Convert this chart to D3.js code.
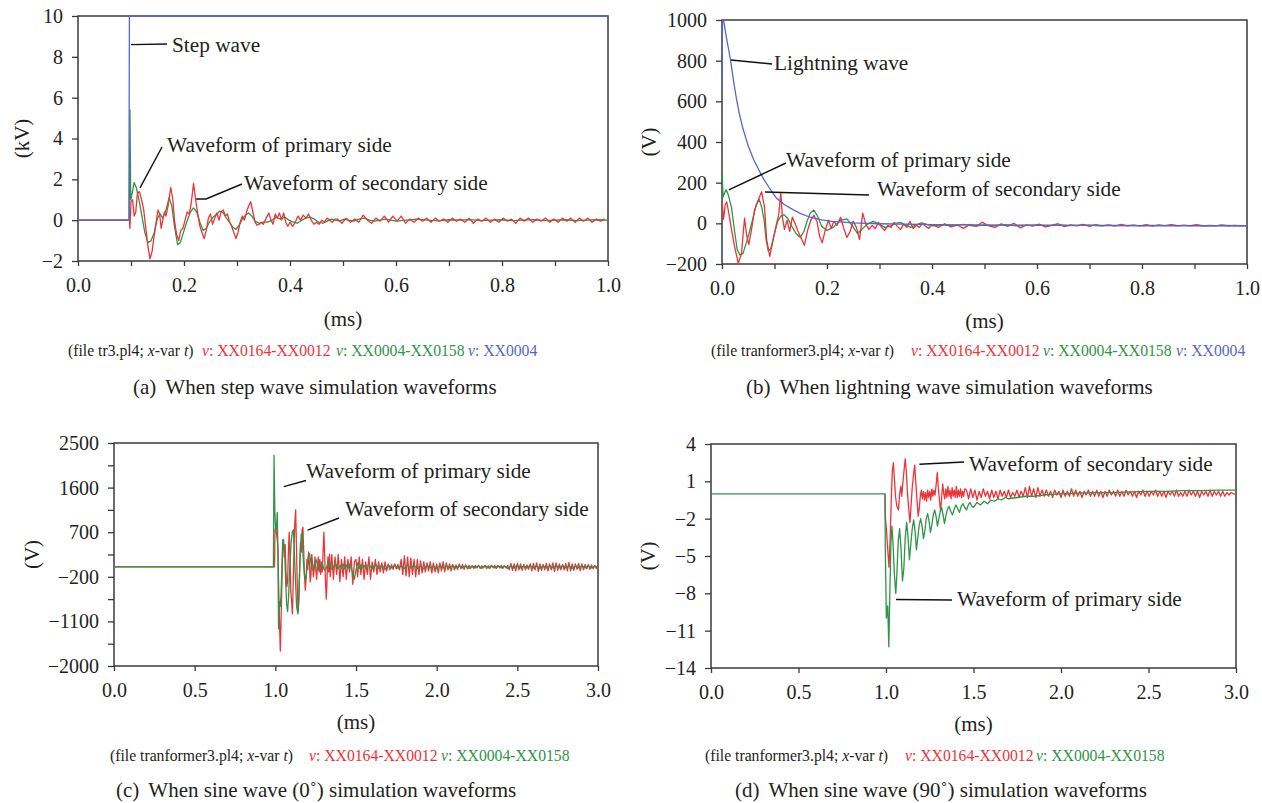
<!DOCTYPE html>
<html><head><meta charset="utf-8">
<script src="https://cdn.jsdelivr.net/npm/d3@7"></script>
<style>
body{margin:0;background:#fff;}
svg{display:block;}
svg text{font-family:"Liberation Serif","Times New Roman",serif;}
</style></head><body>
<svg id="chart" width="1262" height="803"></svg>
<script>
// ---------------- DATA ----------------
// Panel (a): step wave, time in ms, voltage in kV
const aXTicks = [0,0.1,0.2,0.3,0.4,0.5,0.6,0.7,0.8,0.9,1.0];
const aXLabels = ["0.0","","0.2","","0.4","","0.6","","0.8","","1.0"];
const aYTicks = [-2,0,2,4,6,8,10];
const aYLabels = ["\u22122","0","2","4","6","8","10"];
const aBlue = [[0,0],[0.096,0],[0.097,10],[1.0,10]];
const aGreen = [[0,0],[0.097,0],[0.098,5.4],[0.0995,1.0],[0.102,1.3],[0.106,1.85],[0.110,1.6],[0.115,1.0],[0.120,0.3],[0.126,-0.6],[0.132,-1.1],[0.138,-1.0],[0.144,-0.6],[0.150,0.1],[0.155,0.3],[0.160,0.1],[0.166,0.5],[0.172,1.1],[0.177,0.7],[0.182,-0.3],[0.188,-1.2],[0.193,-1.1],[0.199,-0.6],[0.205,-0.1],[0.212,0.4],[0.218,0.6],[0.224,0.4],[0.230,-0.1],[0.236,-0.5],[0.242,-0.4],[0.248,-0.1],[0.255,0.15],[0.262,0.3],[0.268,0.45],[0.274,0.35],[0.280,0.1],[0.286,-0.1],[0.292,-0.35],[0.298,-0.45],[0.304,-0.25],[0.310,0.05],[0.316,0.25],[0.322,0.35],[0.328,0.2],[0.334,-0.05],[0.342,-0.15],[0.350,-0.1],[0.358,-0.1],[0.366,0.0],[0.374,0.15],[0.382,0.05],[0.390,0.15],[0.398,0.0],[0.406,-0.1],[0.414,-0.15],[0.422,0.0],[0.430,0.1],[0.438,0.15],[0.446,0.05],[0.454,-0.1],[0.462,-0.15],[0.470,-0.05],[0.478,0.05],[0.486,0.0],[0.494,-0.05],[0.502,0.05],[0.51,0.0],[0.52,-0.05],[0.53,0.05],[0.54,0.1],[0.55,0.0],[0.56,-0.05],[0.57,0.0],[0.58,0.05],[0.59,0.0],[0.60,-0.05],[0.62,0.0],[0.64,0.05],[0.66,0.0],[0.68,-0.03],[0.70,0.02],[0.72,0.0],[0.74,0.03],[0.76,-0.02],[0.78,0.0],[0.80,0.02],[0.82,-0.02],[0.84,0.0],[0.86,0.03],[0.88,-0.02],[0.90,0.0],[0.92,0.02],[0.94,-0.02],[0.96,0.0],[0.98,0.02],[1.0,0.0]];
const aRedMain = [[0,0],[0.097,0],[0.098,-0.4],[0.100,0.9],[0.103,1.0],[0.106,0.2],[0.109,0.4],[0.112,1.3],[0.116,1.4],[0.120,1.0],[0.124,0.5],[0.128,-0.4],[0.132,-1.3],[0.136,-1.9],[0.140,-1.5],[0.144,-0.7],[0.148,0.0],[0.151,0.5],[0.154,0.3],[0.157,-0.4],[0.160,0.0],[0.163,0.4],[0.166,0.2],[0.170,0.7],[0.175,1.6],[0.179,1.0],[0.182,0.0],[0.186,-0.7],[0.190,-1.0],[0.194,-0.5],[0.198,-0.4],[0.202,0.0],[0.206,0.4],[0.210,0.3],[0.214,0.9],[0.218,1.8],[0.222,1.0],[0.226,0.3],[0.230,-0.3],[0.234,-0.6],[0.238,-0.9],[0.242,-0.5],[0.246,0.1],[0.250,0.3],[0.254,-0.2],[0.258,0.1],[0.262,0.35],[0.266,0.0],[0.270,0.4],[0.274,0.5],[0.278,0.2],[0.282,0.3],[0.286,-0.1],[0.290,-0.3],[0.294,-0.6],[0.298,-0.9],[0.302,-0.6],[0.306,-0.1],[0.310,0.2],[0.314,0.0],[0.318,0.4],[0.322,0.7],[0.326,0.9],[0.330,0.4],[0.334,-0.1],[0.338,-0.25],[0.342,-0.2],[0.346,-0.1],[0.350,-0.2],[0.355,0.1],[0.360,0.35],[0.364,0.0],[0.368,-0.2],[0.372,0.3],[0.376,0.1],[0.380,0.35],[0.384,0.0],[0.388,0.35],[0.392,-0.1],[0.396,-0.3],[0.400,-0.1],[0.405,-0.3],[0.410,-0.1],[0.415,0.2],[0.420,0.0],[0.425,0.25],[0.430,0.1],[0.435,0.3],[0.440,0.0],[0.445,-0.2],[0.450,-0.1],[0.455,-0.2],[0.460,0.0],[0.465,-0.1],[0.470,0.1],[0.475,0.0],[0.480,-0.1],[0.485,0.05]];
const aRedTailStart = 0.49, aRedTailStep = 0.008;
const aRedTail = [0.05,-0.15,0.1,-0.1,0.05,-0.1,0.25,0.0,-0.15,0.1,-0.05,0.2,-0.1,0.2,-0.05,0.2,-0.15,0.05,-0.1,0.1,-0.05,0.1,-0.1,0.1,-0.05,0.05,-0.1,0.1,-0.05,0.05,-0.1,0.1,-0.15,0.05,-0.05,0.1,-0.1,0.05,-0.1,0.1,-0.05,0.05,-0.15,0.1,-0.05,0.1,-0.1,0.05,-0.05,0.1,-0.1,0.05,-0.1,0.1,-0.05,0.1,-0.1,0.1,-0.05,0.1,-0.1,0.05,-0.05,0.05];

// Panel (b): lightning wave, V
const bXTicks = aXTicks;
const bXLabels = aXLabels;
const bYTicks = [-200,0,200,400,600,800,1000];
const bYLabels = ["\u2212200","0","200","400","600","800","1000"];
const bBlue = [[0,660],[0.001,1000],[0.003,1000],[0.008,920],[0.013,850],[0.017,790],[0.022,700],[0.027,620],[0.033,540],[0.040,465],[0.050,380],[0.060,315],[0.072,254],[0.080,215],[0.090,175],[0.104,123],[0.120,90],[0.136,66],[0.150,48],[0.168,30],[0.190,17],[0.210,10],[0.250,2],[0.300,-2],[0.400,-6],[0.600,-9],[0.800,-11],[1.000,-12]];
const bGreenMain = [[0,270],[0.002,130],[0.005,150],[0.008,165],[0.012,140],[0.018,80],[0.024,-40],[0.029,-130],[0.034,-155],[0.040,-148],[0.047,-90],[0.053,-35],[0.059,25],[0.065,90],[0.071,118],[0.076,75],[0.080,20],[0.084,-80],[0.088,-135],[0.093,-125],[0.099,-60],[0.106,10],[0.112,35],[0.118,42],[0.125,25],[0.133,-15],[0.141,-50],[0.149,-70],[0.156,-40],[0.162,10],[0.168,50],[0.175,65],[0.182,35],[0.190,-15],[0.200,-35],[0.212,-20],[0.225,15],[0.238,22],[0.249,-15],[0.258,-50],[0.266,-30],[0.276,-5],[0.288,10],[0.300,-5],[0.310,-20],[0.320,-15],[0.330,0],[0.340,5],[0.350,-10],[0.360,-20],[0.370,-8],[0.380,2],[0.390,-5],[0.400,-12]];
const bGreenTailStart = 0.42, bGreenTailStep = 0.02;
const bGreenTail = [-8,-12,-5,-14,-9,-11,-6,-12,-10,-9,-12,-8,-11,-10,-9,-12,-10,-11,-10,-12,-10,-11,-10,-11,-10,-12,-11,-10,-11,-11];
const bRedMain = [[0,110],[0.003,20],[0.006,90],[0.009,105],[0.013,50],[0.018,-30],[0.024,-115],[0.031,-197],[0.037,-150],[0.040,-60],[0.043,25],[0.047,-60],[0.051,-105],[0.056,-35],[0.062,65],[0.069,115],[0.0755,155],[0.081,80],[0.085,-80],[0.091,-162],[0.097,-85],[0.104,0],[0.108,40],[0.112,150],[0.115,30],[0.119,-30],[0.124,15],[0.129,-40],[0.134,30],[0.139,0],[0.145,-40],[0.152,-80],[0.157,-108],[0.163,-35],[0.169,15],[0.175,40],[0.181,8],[0.186,-65],[0.191,-95],[0.197,-30],[0.203,15],[0.208,-25],[0.213,10],[0.219,-10],[0.226,30],[0.232,-25],[0.238,-70],[0.244,-40],[0.250,10],[0.256,-20],[0.262,-80],[0.268,50],[0.274,-5],[0.280,-30],[0.286,-10],[0.292,-25],[0.298,5],[0.304,-20],[0.310,-35],[0.316,-10],[0.322,-20],[0.328,5],[0.334,-15],[0.340,-30],[0.346,-5],[0.352,-20],[0.358,10],[0.364,-25],[0.370,-10],[0.376,-20],[0.382,0],[0.388,-15],[0.394,-25]];
const bRedTailStart = 0.40, bRedTailStep = 0.012;
const bRedTail = [-5,-20,-2,-18,-8,-25,-5,-15,5,-12,-20,-3,-15,0,-22,-8,-14,-4,-18,-10,-2,-16,-8,-12,-5,-15,-6,-12,-8,-14,-5,-12,-9,-13,-6,-14,-8,-11,-7,-13,-9,-12,-7,-13,-10,-12,-8,-13,-10,-12,-11];

// Panel (c): sine wave 0 deg, V
const cXTicks = [0,0.5,1.0,1.5,2.0,2.5,3.0];
const cXLabels = ["0.0","0.5","1.0","1.5","2.0","2.5","3.0"];
const cYTicks = [-2000,-1550,-1100,-650,-200,250,700,1150,1600,2050,2500];
const cYLabels = ["\u22122000","","\u22121100","","\u2212200","","700","","1600","","2500"];
const cGreenMain = [[0,0],[0.988,0],[0.992,2250],[0.997,1100],[1.002,750],[1.007,800],[1.012,1100],[1.016,300],[1.020,-1250],[1.025,-700],[1.030,-800],[1.035,-600],[1.040,-100],[1.046,550],[1.052,450],[1.058,300],[1.064,-300],[1.070,-750],[1.076,-900],[1.082,-600],[1.090,0],[1.098,500],[1.105,700],[1.112,750],[1.118,300],[1.125,-300],[1.132,-800],[1.140,-950],[1.147,-400],[1.154,200],[1.160,650],[1.166,680],[1.172,200],[1.180,-150],[1.188,-270],[1.196,-50],[1.204,200],[1.212,270],[1.220,100],[1.228,-60],[1.236,-60],[1.244,80],[1.252,150],[1.260,60],[1.268,-50],[1.276,0],[1.284,100],[1.292,60],[1.300,-40],[1.310,-80],[1.320,20],[1.330,130],[1.340,40],[1.350,-50],[1.360,-10],[1.370,80],[1.380,20],[1.390,-40],[1.400,30],[1.410,-20],[1.420,60],[1.430,-40],[1.440,40],[1.450,-30],[1.460,50],[1.470,-20],[1.480,-120],[1.490,-250],[1.500,-60],[1.510,80],[1.520,-30],[1.530,40],[1.540,-20],[1.550,30],[1.560,-30],[1.570,20]];
const cGreenTailStart = 1.58, cGreenTailStep = 0.02;
const cGreenTail = [50,-40,60,-30,40,-50,30,-20,40,-30,20,-30,40,-20,30,-30,20,-40,30,-20,20,-30,30,-20,20,-20,30,-20,20,-20,30,-30,20,-20,20,-30,30,-20,20,-20,30,-20,20,-30,20,-20,30,-20,20,-20,30,-20,20,-30,20,-20,20,-20,30,-20,20,-20,20,-30,20,-20,20,-20,20,-20,10,0];
const cRedMain = [[0,0],[0.995,0],[0.998,750],[1.003,800],[1.008,650],[1.012,550],[1.016,400],[1.020,-300],[1.026,-1150],[1.031,-1700],[1.036,-1000],[1.041,-300],[1.046,450],[1.051,550],[1.056,200],[1.061,450],[1.066,-100],[1.071,-400],[1.076,-300],[1.081,300],[1.086,700],[1.091,200],[1.096,-500],[1.101,-700],[1.106,-950],[1.111,-300],[1.116,400],[1.121,900],[1.126,1150],[1.131,400],[1.136,-400],[1.141,-900],[1.146,-700],[1.151,0],[1.156,500],[1.161,300],[1.166,750],[1.171,800],[1.176,300],[1.181,-200],[1.186,-470],[1.191,-200],[1.196,150],[1.201,-50],[1.206,300],[1.211,100],[1.216,-300],[1.221,-150],[1.226,250],[1.231,50],[1.236,-200],[1.241,-50],[1.246,200],[1.251,-50],[1.256,-250],[1.261,0],[1.266,200],[1.271,-100],[1.276,150],[1.281,-150],[1.286,50],[1.291,-100],[1.296,300],[1.301,700],[1.306,200],[1.311,-300],[1.316,-650],[1.321,-200],[1.326,200],[1.331,-100],[1.336,250]];
const cRedTailStart = 1.34, cRedTailStep = 0.01;
const cRedTail = [-200,250,-250,200,-150,250,-300,150,-200,200,-250,150,-100,200,-350,100,
  150,-200,200,-150,150,-250,100,-150,200,-250,100,-100,150,-150,100,-100,80,-120,100,-80,
  60,-60,50,-50,60,-40,50,-60,
  150,-150,220,-180,200,-200,180,-150,150,-200,150,-150,120,-120,100,-100,80,
  -80,100,-120,80,-100,60,-120,80,-80,100,-100,80,-60,60,-80,50,-60,40,-50,60,-40,50,-50,40,-40,
  30,-30,20,-30,30,-20,30,-30,20,-20,30,-30,20,-30,30,-20,30,-30,20,-20,30,-30,20,-20,30,
  -60,70,-70,60,-80,70,-60,60,-70,50,-60,40,-50,60,-80,70,-60,80,-90,60,-70,50,-60,70,-80,60,-60,80,-90,80,-70,60,-60,50,-60,70,-80,90,-80,60,-70,60,-50,70,-80,60,-60,50,-40,50,-50,40,-40,30,-30,0];

// Panel (d): sine wave 90 deg, V
const dXTicks = cXTicks;
const dXLabels = cXLabels;
const dYTicks = [-14,-11,-8,-5,-2,1,4];
const dYLabels = ["\u221214","\u221211","\u22128","\u22125","\u22122","1","4"];
const dGreen = [[0,0],[0.994,0],[0.996,-4.5],[1.002,-10],[1.010,-9],[1.016,-12.3],[1.022,-8],[1.028,-4],[1.034,-2.6],[1.040,-4],[1.048,-6.5],[1.056,-8.0],[1.062,-6.5],[1.070,-3.8],[1.078,-2.8],[1.086,-4.5],[1.094,-7.0],[1.102,-6.0],[1.110,-3.5],[1.118,-2.3],[1.126,-3.5],[1.134,-5.3],[1.142,-4.0],[1.150,-2.8],[1.158,-2.1],[1.166,-3.0],[1.174,-4.5],[1.182,-3.5],[1.190,-2.5],[1.198,-2.0],[1.206,-2.6],[1.214,-3.6],[1.222,-3.0],[1.230,-2.0],[1.238,-1.6],[1.246,-2.2],[1.254,-3.1],[1.262,-2.5],[1.270,-1.7],[1.278,-1.3],[1.286,-1.8],[1.294,-2.6],[1.302,-2.0],[1.310,-1.4],[1.318,-1.1],[1.326,-1.7],[1.334,-2.4],[1.342,-1.8],[1.350,-1.3],[1.36,-1.0],[1.37,-1.4],[1.38,-1.7],[1.39,-1.2],[1.40,-0.9],[1.41,-1.2],[1.42,-1.5],[1.43,-1.0],[1.44,-0.8],[1.45,-1.1],[1.46,-1.3],[1.47,-0.9],[1.48,-0.7],[1.49,-1.0],[1.50,-1.1],[1.52,-0.7],[1.54,-0.9],[1.56,-0.6],[1.58,-0.8],[1.60,-0.5],[1.62,-0.6],[1.64,-0.4],[1.66,-0.5],[1.68,-0.3],[1.70,-0.4],[1.75,-0.3],[1.80,-0.2],[1.85,-0.2],[1.90,-0.1],[1.95,-0.05],[2.0,0.0],[2.1,0.05],[2.2,0.1],[2.3,0.1],[2.4,0.15],[2.5,0.2],[2.6,0.2],[2.7,0.25],[2.8,0.25],[2.9,0.3],[3.0,0.3]];
const dRedMain = [[0.994,0],[0.997,-2.0],[1.003,-3.0],[1.010,-4.5],[1.017,-5.9],[1.024,-3.5],[1.030,-0.5],[1.036,1.8],[1.042,2.5],[1.048,1.2],[1.055,-0.3],[1.062,-1.0],[1.071,-1.3],[1.078,0.0],[1.085,0.6],[1.090,-0.2],[1.097,1.0],[1.104,2.0],[1.110,2.8],[1.116,1.8],[1.123,0.0],[1.130,-1.2],[1.137,-2.3],[1.143,-1.0],[1.150,0.5],[1.157,1.5],[1.164,2.3],[1.170,1.0],[1.177,-0.5],[1.184,-1.8],[1.190,-1.2],[1.196,-0.2],[1.202,0.3],[1.208,-0.4],[1.214,0.2],[1.220,-0.5],[1.226,0.1],[1.232,-0.6],[1.238,0.3],[1.244,-0.3],[1.250,0.2],[1.256,-0.5],[1.262,0.4],[1.268,-0.2],[1.274,0.3],[1.280,-0.1],[1.287,0.8],[1.293,1.7],[1.299,0.5],[1.306,-0.6],[1.312,-1.4],[1.318,-0.3],[1.324,0.8],[1.330,0.0],[1.336,-0.4],[1.342,0.4],[1.348,-0.3],[1.354,0.6],[1.360,-0.2],[1.366,0.3],[1.372,-0.4],[1.378,0.5],[1.384,-0.2],[1.390,0.3],[1.396,-0.3],[1.402,0.6],[1.408,-0.3],[1.414,0.3],[1.420,-0.2],[1.426,0.4],[1.432,-0.3],[1.438,0.2],[1.444,-0.2],[1.450,0.4]];
const dRedTailStart = 1.46, dRedTailStep = 0.012;
const dRedTail = [0.3,-0.4,0.4,-0.3,0.3,-0.5,0.2,-0.3,0.4,-0.2,0.2,-0.4,
  0.3,-0.3,0.2,-0.4,0.3,-0.2,0.2,-0.3,0.3,-0.3,0.1,-0.2,0.3,-0.3,0.2,-0.2,0.5,-0.3,0.6,-0.2,0.4,-0.3,0.5,-0.2,0.3,
  -0.2,0.3,-0.2,0.2,-0.3,0.3,-0.1,0.2,-0.3,0.3,-0.2,0.2,-0.2,0.4,-0.2,0.3,-0.2,0.2,-0.3,0.2,-0.1,0.3,-0.2,0.2,-0.2,0.3,-0.2,0.2,-0.3,0.2,-0.2,0.3,-0.1,0.2,-0.2,0.3,-0.2,0.2,-0.2,0.3,-0.1,0.2,-0.2,0.2,-0.3,0.2,-0.1,0.3,-0.2,0.2,
  -0.2,0.2,-0.1,0.3,-0.2,0.2,-0.2,0.2,-0.3,0.2,-0.1,0.2,-0.2,0.3,-0.2,0.1,-0.2,0.2,-0.2,0.3,-0.1,0.2,-0.2,0.2,-0.3,0.2,-0.1,0.2,-0.2,0.3,-0.2,0.2,-0.1,0.2,-0.2,0.2,-0.2,0.1,-0.1,0.1,0.0,0.0];

// Texts
const seriesNames = ["XX0164-XX0012","XX0004-XX0158","XX0004"];
const captions = ["When step wave simulation waveforms","When lightning wave simulation waveforms","When sine wave (0\u02da) simulation waveforms","When sine wave (90\u02da) simulation waveforms"];
const noteTexts = ["Step wave","Lightning wave","Waveform of primary side","Waveform of secondary side"];

// ---------------- DRAW ----------------
const FONT = "'Liberation Serif', 'Times New Roman', serif";
const C = {red:"#ee3338", green:"#2e9546", blue:"#5766cd", ink:"#231f20", frame:"#3a3a3a"};
const withTail = (main, start, step, vals) => main.concat(vals.map((v,i)=>[start+i*step, v]));
const svg = d3.select("#chart");

const panels = [
 {tag:"(a)", xDomain:[0,1], yDomain:[-2,10], xRange:[78,608], yRange:[261,16],
  xTicks:aXTicks, xLabels:aXLabels, yTicks:aYTicks, yLabels:aYLabels,
  series:[[aGreen,C.green],[withTail(aRedMain,aRedTailStart,aRedTailStep,aRedTail),C.red],[aBlue,C.blue]],
  yTitle:"(kV)", yTitleX:22, xTitleY:326,
  notes:[{t:0,a:[0.1,8.6],p:[[167,44]],x:172,y:52},
         {t:2,a:[0.117,1.58],p:[[162,147]],x:167,y:152},
         {t:3,a:[0.223,1.04],p:[[206,199],[242,184]],x:244,y:190}],
  file:"tr3.pl4", legY:356, legX:[68,202,336,468], nSeries:3,
  capX:133, capY:394, cap:0},
 {tag:"(b)", xDomain:[0,1], yDomain:[-200,1000], xRange:[722,1247], yRange:[264,20],
  xTicks:bXTicks, xLabels:bXLabels, yTicks:bYTicks, yLabels:bYLabels,
  series:[[withTail(bGreenMain,bGreenTailStart,bGreenTailStep,bGreenTail),C.green],[withTail(bRedMain,bRedTailStart,bRedTailStep,bRedTail),C.red],[bBlue,C.blue]],
  yTitle:"(V)", yTitleX:649, xTitleY:328,
  notes:[{t:1,a:[0.017,803],p:[[772,64]],x:774,y:70},
         {t:2,a:[0.013,164],p:[[786,163]],x:786,y:167},
         {t:3,a:[0.082,154],p:[[869,195]],x:877,y:196}],
  file:"tranformer3.pl4", legY:356, legX:[711,911,1043,1176], nSeries:3,
  capX:746, capY:394, cap:1},
 {tag:"(c)", xDomain:[0,3], yDomain:[-2000,2500], xRange:[114,598], yRange:[666,443],
  xTicks:cXTicks, xLabels:cXLabels, yTicks:cYTicks, yLabels:cYLabels,
  series:[[withTail(cRedMain,cRedTailStart,cRedTailStep,cRedTail),C.red],[withTail(cGreenMain,cGreenTailStart,cGreenTailStep,cGreenTail),C.green]],
  yTitle:"(V)", yTitleX:32, xTitleY:729,
  notes:[{t:2,a:[1.052,1620],p:[[306,480.5]],x:306,y:478},
         {t:3,a:[1.2,740],p:[[339,518]],x:345,y:516}],
  file:"tranformer3.pl4", legY:761, legX:[110,309,441], nSeries:2,
  capX:116, capY:797, cap:2},
 {tag:"(d)", xDomain:[0,3], yDomain:[-14,4], xRange:[711,1236], yRange:[668,444],
  xTicks:dXTicks, xLabels:dXLabels, yTicks:dYTicks, yLabels:dYLabels,
  series:[[withTail(dRedMain,dRedTailStart,dRedTailStep,dRedTail),C.red],[dGreen,C.green]],
  yTitle:"(V)", yTitleX:648, xTitleY:731,
  notes:[{t:3,a:[1.191,2.37],p:[[964,462]],x:969,y:471},
         {t:2,a:[1.057,-8.5],p:[[952,600]],x:957,y:606}],
  file:"tranformer3.pl4", legY:761, legX:[705,905,1036], nSeries:2,
  capX:735, capY:797, cap:3}
];

panels.forEach(p => {
  const x = d3.scaleLinear().domain(p.xDomain).range(p.xRange);
  const y = d3.scaleLinear().domain(p.yDomain).range(p.yRange);
  const g = svg.append("g");
  const styleAxis = s => {
    s.attr("font-family", FONT).attr("font-size", 20);
    s.select(".domain").remove();
    s.selectAll(".tick line").attr("stroke", C.frame).attr("stroke-width", 1.3);
    s.selectAll(".tick text").attr("fill", C.ink).attr("font-family", FONT);
  };
  g.append("g").attr("transform", `translate(0,${p.yRange[0]})`)
    .call(d3.axisBottom(x).tickValues(p.xTicks).tickFormat((d,i)=>p.xLabels[i]).tickSize(5).tickPadding(12))
    .call(styleAxis);
  g.append("g").attr("transform", `translate(${p.xRange[0]},0)`)
    .call(d3.axisLeft(y).tickValues(p.yTicks).tickFormat((d,i)=>p.yLabels[i]).tickSize(6).tickPadding(9))
    .call(styleAxis);
  g.append("rect").attr("x", p.xRange[0]).attr("y", p.yRange[1])
    .attr("width", p.xRange[1]-p.xRange[0]).attr("height", p.yRange[0]-p.yRange[1])
    .attr("fill","none").attr("stroke", C.frame).attr("stroke-width", 1.5);
  const line = d3.line().x(d=>x(d[0])).y(d=>y(d[1]));
  p.series.forEach(([data,col]) => {
    g.append("path").datum(data).attr("d", line).attr("fill","none")
      .attr("stroke", col).attr("stroke-width", 1.3).attr("stroke-linejoin","round");
  });
  // annotations
  p.notes.forEach(n => {
    const pts = [[x(n.a[0]), y(n.a[1])]].concat(n.p);
    g.append("path").attr("d", d3.line()(pts)).attr("fill","none").attr("stroke","#111").attr("stroke-width",1.4);
    g.append("text").attr("x", n.x).attr("y", n.y).attr("font-family", FONT).attr("font-size", 21.3).attr("fill", C.ink).text(noteTexts[n.t]);
  });
  // axis titles
  g.append("text").attr("x", (p.xRange[0]+p.xRange[1])/2).attr("y", p.xTitleY).attr("font-family", FONT)
    .attr("text-anchor","middle").attr("font-size",21).attr("fill",C.ink).text("(ms)");
  const cy = (p.yRange[0]+p.yRange[1])/2;
  g.append("text").attr("transform", `translate(${p.yTitleX},${cy}) rotate(-90)`).attr("font-family", FONT)
    .attr("text-anchor","middle").attr("dy","0.35em").attr("font-size",21).attr("fill",C.ink).text(p.yTitle);
  // legend line
  const lf = 15.7;
  const t0 = g.append("text").attr("x", p.legX[0]).attr("y", p.legY).attr("font-family", FONT).attr("font-size", lf).attr("fill", C.ink);
  t0.append("tspan").text("(file " + p.file + "; ");
  t0.append("tspan").attr("font-style","italic").text("x");
  t0.append("tspan").text("-var ");
  t0.append("tspan").attr("font-style","italic").text("t");
  t0.append("tspan").text(")");
  const lc = [C.red, C.green, C.blue];
  for (let i = 0; i < p.nSeries; i++) {
    const t = g.append("text").attr("x", p.legX[i+1]).attr("y", p.legY).attr("font-family", FONT).attr("font-size", lf).attr("fill", lc[i]);
    t.append("tspan").attr("font-style","italic").text("v");
    t.append("tspan").text(": " + seriesNames[i]);
  }
  // caption
  const ct = g.append("text").attr("x", p.capX).attr("y", p.capY).attr("font-family", FONT).attr("font-size", 21).attr("fill", C.ink);
  ct.append("tspan").text(p.tag);
  ct.append("tspan").attr("dx", 9).text(captions[p.cap]);
});
</script>
</body></html>
